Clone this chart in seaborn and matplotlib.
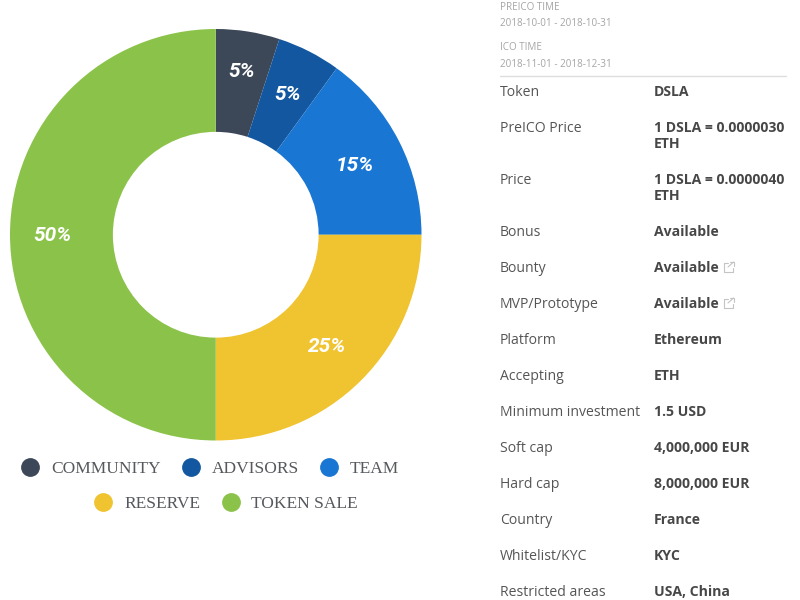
import matplotlib
matplotlib.use('Agg')
import matplotlib.pyplot as plt
from matplotlib.lines import Line2D
import seaborn as sns

# allocation data
labels = ['COMMUNITY', 'ADVISORS', 'TEAM', 'RESERVE', 'TOKEN SALE']
shares = [5, 5, 15, 25, 50]
colors = ['#3c4858', '#1257a0', '#1976d2', '#f0c330', '#8bc34a']

# ico details
time_labels = ['PREICO TIME', 'ICO TIME']
time_values = ['2018-10-01 - 2018-10-31', '2018-11-01 - 2018-12-31']
row_names = ['Token', 'PreICO Price', 'Price', 'Bonus', 'Bounty', 'MVP/Prototype',
             'Platform', 'Accepting', 'Minimum investment', 'Soft cap', 'Hard cap',
             'Country', 'Whitelist/KYC', 'Restricted areas']
row_values = ['DSLA', '1 DSLA = 0.0000030\nETH', '1 DSLA = 0.0000040\nETH', 'Available',
              'Available', 'Available', 'Ethereum', 'ETH', '1.5 USD', '4,000,000 EUR',
              '8,000,000 EUR', 'France', 'KYC', 'USA, China']
linked_rows = ['Bounty', 'MVP/Prototype']

sns.set_theme(style='white')
plt.rcParams['font.family'] = ['Open Sans', 'DejaVu Sans']

fig = plt.figure(figsize=(8, 6), dpi=100)
ax = fig.add_axes([0, 0, 1, 1])
ax.set_xlim(0, 800)
ax.set_ylim(600, 0)
ax.axis('off')

# pie in its own axes so the angles are not flipped by the inverted y
pie_ax = fig.add_axes([10 / 800, 1 - 440.5 / 600, 411.5 / 800, 411.5 / 600])
wedges, _, pcts = pie_ax.pie(
    shares, colors=colors, startangle=90, counterclock=False, radius=1,
    wedgeprops={'width': 0.5, 'linewidth': 0}, autopct='%d%%', pctdistance=0.77)
pie_ax.set_xlim(-1, 1)
pie_ax.set_ylim(-1, 1)
# the labels do not sit on one radius in the reference
label_shift = [1.05, 1.0, 0.985, 0.99, 1.03]
for t, k in zip(pcts, label_shift):
    t.set(color='white', fontsize=15, fontweight='bold', fontstyle='italic', family='Roboto')
    x, y = t.get_position()
    t.set_position((x * k, y * k - 0.006))

# two legend rows
serif = {'family': 'Liberation Serif', 'size': 12.5}
def legend_row(idx, x, y):
    handles = [Line2D([], [], ls='', marker='o', ms=12.5, mfc=colors[i], mec=colors[i]) for i in idx]
    leg = fig.legend(handles, [labels[i] for i in idx], ncols=len(idx), frameon=False,
                     loc='center', bbox_to_anchor=(x / 800, 1 - y / 600), prop=serif,
                     columnspacing=1.15, handletextpad=0.6, borderpad=0, handlelength=1.2)
    for t in leg.get_texts():
        t.set_color('#55585c')
    return leg

legend_row([0, 1, 2], 209.5, 469)
legend_row([3, 4], 225.5, 504)

# header block
for i, (name, val) in enumerate(zip(time_labels, time_values)):
    ax.text(500, 7 + 41 * i, name, fontsize=7.1, color='#a5a5a5', va='center')
    ax.text(500, 23.5 + 41 * i, val, fontsize=7.1, color='#a5a5a5', va='center')
ax.plot([500, 786], [75.5, 75.5], color='#dddddd', lw=1)

# detail rows, a two line value pushes the next rows down
y = 91
for name, val in zip(row_names, row_values):
    ax.text(500, y + 1.5, name, fontsize=10.1, color='#555555', va='center', clip_on=False)
    lines = val.split('\n')
    for j, line in enumerate(lines):
        ax.text(654, y + 1 + 16 * j, line, fontsize=10.1, color='#474747', fontweight='bold', va='center')
    if name in linked_rows:
        # small external link icon
        ax.plot([727.5, 723.5, 723.5, 733, 733], [y - 4.5, y - 4.5, y + 5, y + 5, y + 1],
                color='#c4c4c4', lw=0.8)
        ax.plot([728, 733.5], [y, y - 5], color='#c4c4c4', lw=0.8)
        ax.plot([730, 733.5, 733.5], [y - 5, y - 5, y - 1.5], color='#c4c4c4', lw=0.8)
    y += 36 + 16 * (len(lines) - 1)

fig.savefig('out.png', dpi=100, facecolor='white')
